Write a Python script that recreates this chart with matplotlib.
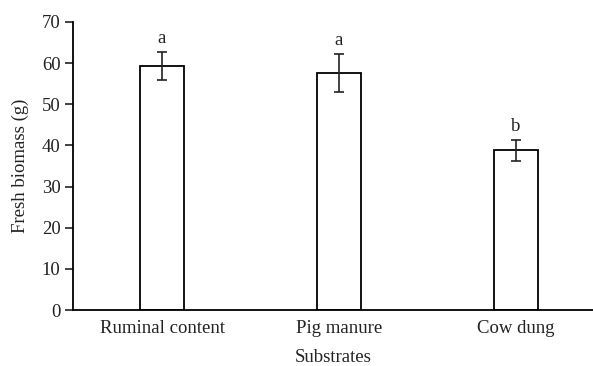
import matplotlib.pyplot as plt
import numpy as np

plt.rcParams['font.family'] = 'Liberation Serif'
plt.rcParams['text.color'] = '#222222'
plt.rcParams['xtick.color'] = '#222222'
plt.rcParams['ytick.color'] = '#222222'
plt.rcParams['axes.labelcolor'] = '#222222'

substrates = ['Ruminal content', 'Pig manure', 'Cow dung']
biomass = [59.3, 57.6, 38.8]
errors = [3.3, 4.7, 2.6]
letters = ['a', 'a', 'b']

fig = plt.figure(figsize=(5.93, 3.66), dpi=100)
ax = fig.add_axes([0.1231, 0.153, 0.877, 0.787])

x = np.arange(len(substrates))
ax.bar(x, biomass, width=0.25, color='white', edgecolor='black', linewidth=1.3, zorder=2)
ax.errorbar(x, biomass, yerr=errors, fmt='none', ecolor='#222222', elinewidth=1.2,
            capsize=3.5, capthick=1.2, zorder=3)
for xi, v, e, l in zip(x, biomass, errors, letters):
    ax.text(xi, v + e + 1.2, l, ha='center', va='bottom', fontsize=13.5)

ax.set_xlim(-0.503, 2.435)
ax.set_ylim(0, 70)
ax.set_yticks(range(0, 71, 10))
ax.set_xticks(x)
ax.set_xticklabels(substrates, fontsize=13.5)
ax.tick_params(axis='x', length=0, pad=7)
ax.tick_params(axis='y', labelsize=13.5, length=6, width=1.2, pad=3)
ax.set_xlabel('Substrates', fontsize=13.5, labelpad=8.5)
ax.set_ylabel('Fresh biomass (g)', fontsize=13.5, labelpad=9)
for s in ['top', 'right']:
    ax.spines[s].set_visible(False)
for s in ['left', 'bottom']:
    ax.spines[s].set_linewidth(1.3)

fig.savefig('out.png', dpi=100)
